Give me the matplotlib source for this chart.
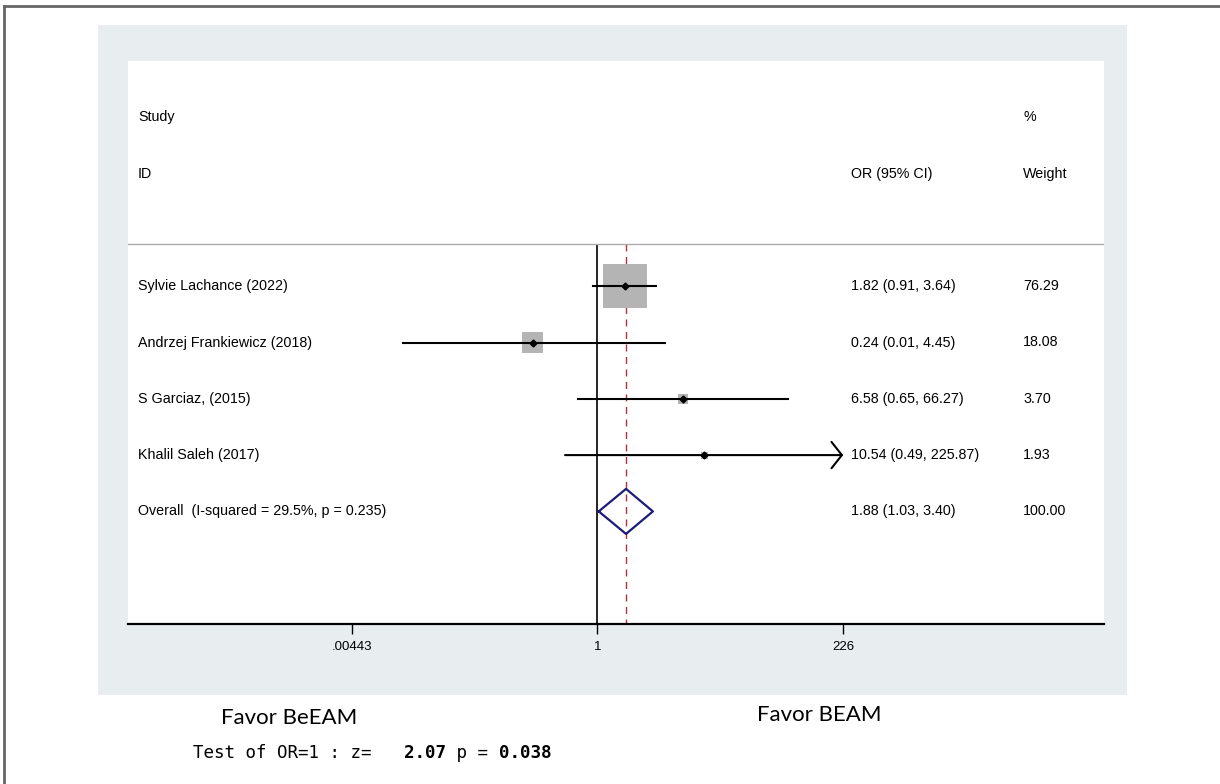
import matplotlib
matplotlib.use('Agg')
import matplotlib.pyplot as plt
import matplotlib.transforms as mtransforms
from matplotlib.patches import Rectangle
from matplotlib.lines import Line2D
import numpy as np

# study level data
studies = ['Sylvie Lachance (2022)', 'Andrzej Frankiewicz (2018)',
           'S Garciaz, (2015)', 'Khalil Saleh (2017)']
odds = [1.82, 0.24, 6.58, 10.54]
ci_low = [0.91, 0.0138, 0.65, 0.49]
ci_high = [3.64, 4.45, 66.27, 225.87]
weights = [76.29, 18.08, 3.70, 1.93]

overall_label = 'Overall  (I-squared = 29.5%, p = 0.235)'
overall_or = 1.88
overall_low = 1.03
overall_high = 3.40
overall_weight = 100.00

xticks = [0.00443, 1, 226]
xtick_labels = ['.00443', '1', '226']

W, H = 1220, 784
FONT = 'Liberation Sans'


def fx(px):
    return px / W


def fy(py):
    return 1 - py / H


def main():
    fig = plt.figure(figsize=(W / 100, H / 100), dpi=100)
    fig.patch.set_facecolor('white')

    # outer frame (only top and left edges show)
    fig.add_artist(Line2D([fx(4), fx(4)], [fy(6), 0], color='#666666', lw=2))
    fig.add_artist(Line2D([fx(4), 1], [fy(6), fy(6)], color='#666666', lw=2))

    # stata style light panel
    fig.add_artist(Rectangle((fx(98), fy(695)), fx(1127) - fx(98), fy(25) - fy(695),
                             facecolor='#e8eef0', edgecolor='none', zorder=0))

    ax = fig.add_axes([fx(128), fy(624), fx(1104) - fx(128), fy(61) - fy(624)])
    ax.set_facecolor('white')
    ax.set_xscale('log')
    ax.set_xlim(3.2e-5, 7.1e4)
    ax.set_ylim(7, -3)
    for s in ['top', 'left', 'right']:
        ax.spines[s].set_visible(False)
    ax.spines['bottom'].set_linewidth(1.6)
    ax.set_yticks([])
    ax.minorticks_off()
    ax.set_xticks(xticks)
    ax.set_xticklabels(xtick_labels, fontfamily=FONT, fontsize=9.5)
    ax.tick_params(axis='x', length=7, width=1, pad=5)

    tr = mtransforms.blended_transform_factory(ax.transAxes, ax.transData)
    col_name = 0.0102
    col_ci = (851 - 128) / 976
    col_w = (1023 - 128) / 976
    fs = 10.3

    # header
    ax.text(col_name, -2, 'Study', transform=tr, fontfamily=FONT, fontsize=fs, va='center')
    ax.text(col_name, -1, 'ID', transform=tr, fontfamily=FONT, fontsize=fs, va='center')
    ax.text(col_ci, -1, 'OR (95% CI)', transform=tr, fontfamily=FONT, fontsize=fs, va='center')
    ax.text(col_w, -2, '%', transform=tr, fontfamily=FONT, fontsize=fs, va='center')
    ax.text(col_w, -1, 'Weight', transform=tr, fontfamily=FONT, fontsize=fs, va='center')
    ax.plot([0, 1], [0.25, 0.25], transform=tr, color='#aaaaaa', lw=1)

    # reference line at 1 and overall estimate line
    ax.vlines(1, 0.25, 7, color='black', lw=1.2, zorder=1)
    ax.vlines(overall_or, 0.25, 7, color='#b03040', lw=1, linestyles=(0, (5, 4)), zorder=1)

    rows = np.arange(1, len(studies) + 1)
    axis_max = xticks[-1]
    box_scale = 31.7 ** 2 / max(weights)
    for y, name, o, lo, hi, w in zip(rows, studies, odds, ci_low, ci_high, weights):
        ax.scatter([o], [y], s=w * box_scale, marker='s', color='#b4b4b4',
                   edgecolors='none', zorder=2)
        if hi >= axis_max * 0.99:
            ax.annotate('', xy=(axis_max, y), xytext=(lo, y),
                        arrowprops=dict(arrowstyle='->,head_length=0.75,head_width=0.95',
                                        color='black', lw=1.5, shrinkA=0, shrinkB=0),
                        zorder=3)
        else:
            ax.plot([lo, hi], [y, y], color='black', lw=1.5, zorder=3)
        ax.plot([o], [y], marker='D', color='black', markersize=3.5, zorder=4)
        ax.text(col_name, y, name, transform=tr, fontfamily=FONT, fontsize=fs, va='center')
        ax.text(col_ci, y, f'{o:.2f} ({lo:.2f}, {hi:.2f})', transform=tr,
                fontfamily=FONT, fontsize=fs, va='center')
        ax.text(col_w, y, f'{w:.2f}', transform=tr, fontfamily=FONT, fontsize=fs, va='center')

    # pooled estimate diamond
    yo = len(studies) + 1
    ax.plot([overall_low, overall_or, overall_high, overall_or, overall_low],
            [yo, yo - 0.4, yo, yo + 0.4, yo], color='#1c1c7a', lw=1.6, zorder=4)
    ax.text(col_name, yo, overall_label, transform=tr, fontfamily=FONT, fontsize=fs, va='center')
    ax.text(col_ci, yo, f'{overall_or:.2f} ({overall_low:.2f}, {overall_high:.2f})',
            transform=tr, fontfamily=FONT, fontsize=fs, va='center')
    ax.text(col_w, yo, f'{overall_weight:.2f}', transform=tr, fontfamily=FONT,
            fontsize=fs, va='center')

    # captions below the panel
    fig.text(fx(289), fy(718), 'Favor BeEAM', fontfamily='Lato', fontsize=16,
             ha='center', va='center')
    fig.text(fx(819), fy(715), 'Favor BEAM', fontfamily='Lato', fontsize=16,
             ha='center', va='center')

    mono_size = 12.6
    char_px = 0.602 * mono_size * 100 / 72
    parts = [('Test of OR=1 : z=   ', 'normal'), ('2.07', 'bold'), (' p = ', 'normal'),
             ('0.038', 'bold')]
    pos = 0
    for txt, weight in parts:
        fig.text(fx(193 + pos * char_px), fy(753), txt, fontfamily='DejaVu Sans Mono',
                 fontsize=mono_size, fontweight=weight, ha='left', va='center')
        pos += len(txt)

    fig.savefig('out.png', dpi=100, facecolor='white')


if __name__ == "__main__":
    main()
